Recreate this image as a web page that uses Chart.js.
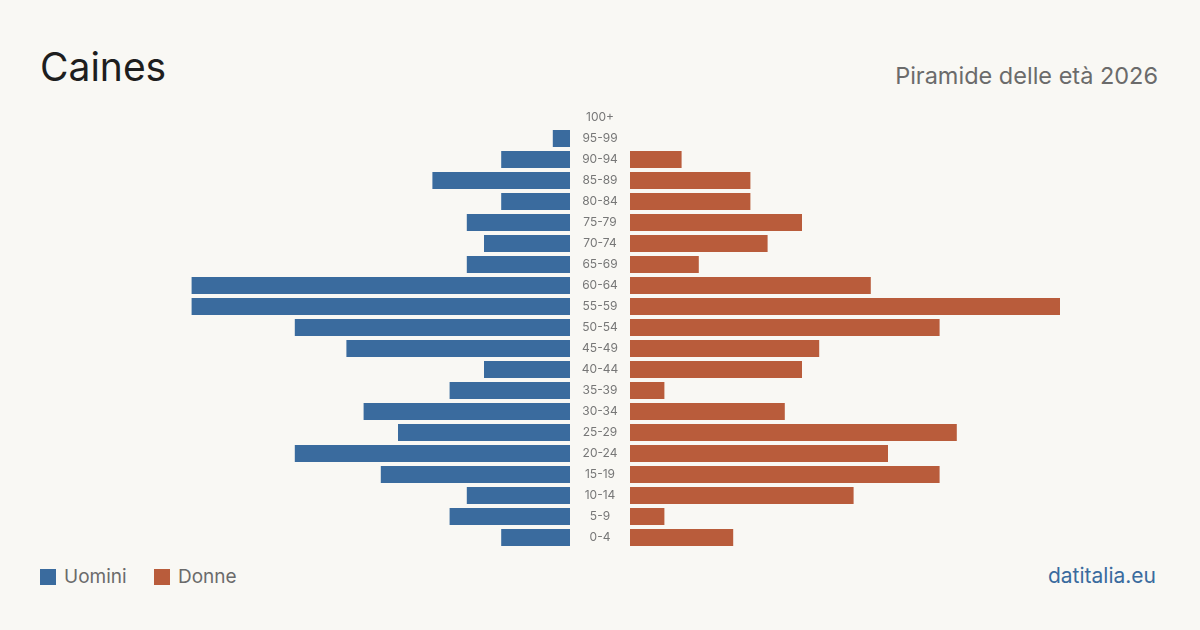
<!DOCTYPE html>
<html>
<head>
<meta charset="utf-8">
<script src="https://cdn.jsdelivr.net/npm/chart.js@4"></script>
<style>
  html, body { margin: 0; padding: 0; }
  body { width: 1200px; height: 630px; background: #f9f8f4; position: relative; overflow: hidden; font-family: Inter, "Noto Sans", sans-serif; }
  #title { position: absolute; left: 40px; top: 43px; font-size: 39px; color: #1e1e1e; line-height: 48px; }
  #subtitle { position: absolute; right: 42px; top: 62px; font-size: 23.5px; color: #6b6b6b; line-height: 28px; }
  #legend { position: absolute; left: 40px; top: 565px; font-size: 19px; color: #6b6b6b; line-height: 24px; }
  #legend span.sw { display: inline-block; width: 16px; height: 16px; vertical-align: -2px; margin-right: 8px; }
  #legend span.item { margin-right: 22px; }
  #source { position: absolute; right: 44px; top: 563px; font-size: 21px; color: #3a6b9e; line-height: 26px; }
  .wrap { position: absolute; top: 107px; height: 441px; }
</style>
</head>
<body>
<div id="title">Caines</div>
<div id="subtitle">Piramide delle età 2026</div>
<div class="wrap" style="left:140px;width:490px"><canvas id="left"></canvas></div>
<div class="wrap" style="left:630px;width:430px"><canvas id="right"></canvas></div>
<div id="legend">
  <span class="item"><span class="sw" style="background:#3a6b9e"></span>Uomini</span>
  <span class="item"><span class="sw" style="background:#b95c3b"></span>Donne</span>
</div>
<div id="source">datitalia.eu</div>

<script>
var classi = ["100+", "95-99", "90-94", "85-89", "80-84", "75-79", "70-74", "65-69", "60-64", "55-59", "50-54",
  "45-49", "40-44", "35-39", "30-34", "25-29", "20-24", "15-19", "10-14", "5-9", "0-4"];
var uomini = [0, 1, 4, 8, 4, 6, 5, 6, 22, 22, 16, 13, 5, 7, 12, 10, 16, 11, 6, 7, 4];
var donne = [0, 0, 3, 7, 7, 10, 8, 4, 14, 25, 18, 11, 10, 2, 9, 19, 15, 18, 13, 2, 6];
var scalaMax = 25;

var blu = "#3a6b9e";
var arancio = "#b95c3b";

// etichette delle classi d'età nello spazio centrale
var etichette = {
  id: "etichette",
  afterDraw: function(chart) {
    var ctx = chart.ctx;
    var y = chart.scales.y;
    ctx.save();
    ctx.font = "12px Inter, 'Noto Sans', sans-serif";
    ctx.fillStyle = "#777";
    ctx.textAlign = "center";
    ctx.textBaseline = "middle";
    classi.forEach(function(c, i) {
      ctx.fillText(c, chart.chartArea.right + 30, y.getPixelForValue(i));
    });
    ctx.restore();
  }
};

function opzioni(reverse, padRight) {
  return {
    indexAxis: "y",
    responsive: true,
    maintainAspectRatio: false,
    animation: false,
    layout: { padding: { left: 0, right: padRight, top: 0, bottom: 0 } },
    plugins: { legend: { display: false }, tooltip: { enabled: false } },
    scales: {
      x: { display: false, min: 0, max: scalaMax, reverse: reverse },
      y: { display: false }
    }
  };
}

new Chart(document.getElementById("left"), {
  type: "bar",
  data: {
    labels: classi,
    datasets: [{ label: "Uomini", data: uomini, backgroundColor: blu, categoryPercentage: 1, barPercentage: 0.81 }]
  },
  options: opzioni(true, 60),
  plugins: [etichette]
});

new Chart(document.getElementById("right"), {
  type: "bar",
  data: {
    labels: classi,
    datasets: [{ label: "Donne", data: donne, backgroundColor: arancio, categoryPercentage: 1, barPercentage: 0.81 }]
  },
  options: opzioni(false, 0)
});
</script>
</body>
</html>
